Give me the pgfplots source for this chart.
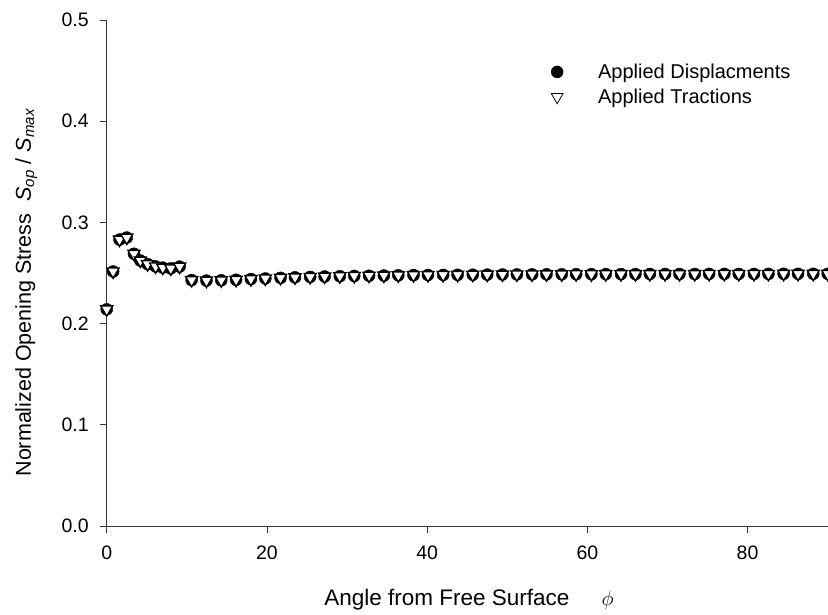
\documentclass[border=0pt]{standalone}
\usepackage{fontspec}
\setmainfont{Liberation Sans}
\usepackage{pgfplots}
\pgfplotsset{compat=1.18}
\usepackage{pgfplotstable}

% Normalized opening stress along the crack front
\pgfplotstableread{
phi   sop
0.0   0.2141
0.8   0.2515
1.6   0.2830
2.5   0.2850
3.4   0.2690
4.2   0.2623
5.1   0.2588
6.1   0.2565
7.0   0.2553
8.0   0.2545
9.1   0.2563
10.6  0.2430
12.45 0.2425
14.3  0.2428
16.15 0.2433
18.0  0.2440
19.8  0.2446
21.7  0.2452
23.5  0.2457
25.4  0.2461
27.2  0.2465
29.1  0.2468
30.9  0.2471
32.75 0.2473
34.6  0.2475
36.4  0.2477
38.3  0.2479
40.1  0.2480
42.0  0.2481
43.8  0.2482
45.7  0.2483
47.5  0.2484
49.4  0.2485
51.2  0.2486
53.1  0.2486
54.9  0.2487
56.8  0.2487
58.6  0.2488
60.5  0.2488
62.3  0.2489
64.2  0.2489
66.0  0.2489
67.8  0.2490
69.7  0.2490
71.5  0.2490
73.4  0.2490
75.2  0.2491
77.1  0.2491
78.9  0.2491
80.8  0.2491
82.6  0.2491
84.5  0.2492
86.3  0.2492
88.2  0.2492
90.0  0.2492
}\dispdata

\pgfplotstableread{
phi   sop
0.0   0.2141
0.8   0.2515
1.6   0.2830
2.5   0.2850
3.4   0.2690
4.2   0.2623
5.1   0.2588
6.1   0.2565
7.0   0.2553
8.0   0.2545
9.1   0.2563
10.6  0.2430
12.45 0.2425
14.3  0.2428
16.15 0.2433
18.0  0.2440
19.8  0.2446
21.7  0.2452
23.5  0.2457
25.4  0.2461
27.2  0.2465
29.1  0.2468
30.9  0.2471
32.75 0.2473
34.6  0.2475
36.4  0.2477
38.3  0.2479
40.1  0.2480
42.0  0.2481
43.8  0.2482
45.7  0.2483
47.5  0.2484
49.4  0.2485
51.2  0.2486
53.1  0.2486
54.9  0.2487
56.8  0.2487
58.6  0.2488
60.5  0.2488
62.3  0.2489
64.2  0.2489
66.0  0.2489
67.8  0.2490
69.7  0.2490
71.5  0.2490
73.4  0.2490
75.2  0.2491
77.1  0.2491
78.9  0.2491
80.8  0.2491
82.6  0.2491
84.5  0.2492
86.3  0.2492
88.2  0.2492
90.0  0.2492
}\tracdata

\begin{document}
\begin{tikzpicture}[x=1pt,y=1pt]
\useasboundingbox (0,0) rectangle (828,614);
\begin{axis}[
  at={(106.7pt,88pt)}, anchor=south west,
  scale only axis, width=721pt, height=506pt,
  xmin=0, xmax=90, ymin=0, ymax=0.5,
  axis x line*=bottom, axis y line*=left,
  axis line style={-, line width=0.8pt, black!80},
  tick style={line width=0.8pt, black!80},
  tick align=outside, major tick length=7pt,
  xtick={0,20,40,60,80},
  ytick={0,0.1,0.2,0.3,0.4,0.5},
  /pgf/number format/assume math mode=true,
  ticklabel style={font=\fontsize{19.5}{19.5}\selectfont},
  yticklabel style={xshift=-7.5pt,
    /pgf/number format/fixed, /pgf/number format/fixed zerofill,
    /pgf/number format/precision=1},
  xticklabel style={yshift=-9pt},
  xlabel={Angle from Free Surface\hspace{32pt}$\phi$},
  ylabel={Normalized Opening Stress\ \ \textit{S}\textsubscript{\textit{op}} / \textit{S}\textsubscript{\textit{max}}},
  xlabel style={font=\fontsize{22.5}{22.5}\selectfont, at={(axis description cs:0.5025,-0.1575)}, anchor=base},
  ylabel style={font=\fontsize{21.5}{21.5}\selectfont, at={(axis description cs:-0.1115,0.4615)}, anchor=center},
  legend style={at={(axis description cs:0.612,0.9215)}, anchor=north west,
    draw=none, fill=none, font=\fontsize{20}{20}\selectfont,
    row sep=5pt, /tikz/every odd column/.append style={column sep=33pt}},
  legend cell align=left,
  clip=false,
]
% filled circles first, open triangles laid over them
\addplot[only marks, mark=*, mark size=6pt, mark options={fill=black, draw=black}, forget plot] table[x=phi, y=sop] {\dispdata};
\addplot[only marks, mark=triangle*, mark size=6.9pt, mark options={rotate=180, fill=white, draw=black, line width=1.4pt}, forget plot] table[x=phi, y=sop] {\tracdata};
\addlegendimage{only marks, mark=*, mark size=6pt, mark options={fill=black}}
\addlegendentry{Applied Displacments}
\addlegendimage{only marks, mark=triangle, mark size=6.8pt, mark options={rotate=180, line width=0.8pt}}
\addlegendentry{Applied Tractions}
\end{axis}
\end{tikzpicture}
\end{document}
